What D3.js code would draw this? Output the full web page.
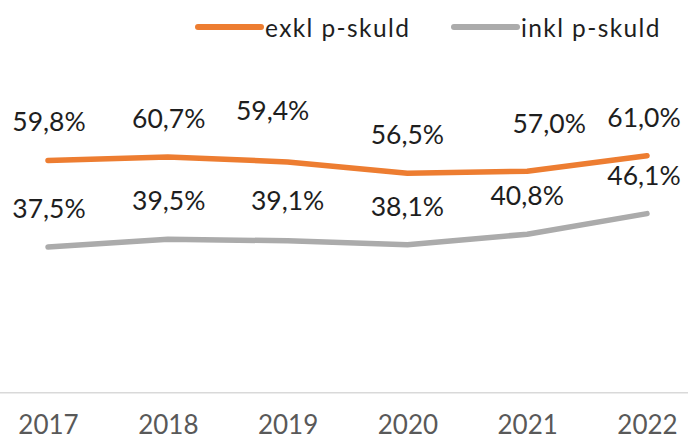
<!DOCTYPE html>
<html>
<head>
<meta charset="utf-8">
<script src="https://cdn.jsdelivr.net/npm/d3@7"></script>
<style>
  html, body { margin: 0; padding: 0; background: #fff; }
  svg { display: block; }
  text { font-family: Lato, "Open Sans", sans-serif; }
</style>
</head>
<body>
<svg id="chart" width="688" height="441"></svg>
<script>
// Years on the x axis
const years = ["2017", "2018", "2019", "2020", "2021", "2022"];
// Share in percent, excluding pension debt
const exklValues = [59.8, 60.7, 59.4, 56.5, 57.0, 61.0];
// Share in percent, including pension debt
const inklValues = [37.5, 39.5, 39.1, 38.1, 40.8, 46.1];
const seriesNames = ["exkl p-skuld", "inkl p-skuld"];

// Hand-placed label nudges (dx, dy) where labels would otherwise crowd
const exklNudge = [[1, 0], [1, 0], [-15, -13], [0, 0], [22, -9], [-3, 0]];
const inklNudge = [[1, 0], [1, 0], [0, -2], [0, 0], [0, 0], [-3, 0]];

const W = 688, H = 441;
const svg = d3.select("#chart");

const x = d3.scalePoint().domain(years).range([48, 647]);
const y = d3.scaleLinear().domain([0, 100]).range([392.7, 4.2]);

const colors = ["#ED7D31", "#ABABAB"];
const series = [
  { name: seriesNames[0], values: exklValues, nudge: exklNudge, color: colors[0] },
  { name: seriesNames[1], values: inklValues, nudge: inklNudge, color: colors[1] }
];

// Category axis: baseline without ticks
const xAxis = d3.axisBottom(x).tickSize(0).tickPadding(23);
const gx = svg.append("g").attr("transform", `translate(0,${y(0)})`).call(xAxis);
gx.select(".domain").remove();
gx.selectAll("text")
  .attr("fill", "#595959")
  .style("font-size", "26px")
  .style("font-family", "Lato, sans-serif");
svg.append("line")
  .attr("x1", 0).attr("x2", W)
  .attr("y1", y(0)).attr("y2", y(0))
  .attr("stroke", "#D9D9D9").attr("stroke-width", 1.5);

const line = d3.line()
  .x((d, i) => x(years[i]))
  .y(d => y(d));

series.forEach(s => {
  svg.append("path")
    .datum(s.values)
    .attr("d", line)
    .attr("fill", "none")
    .attr("stroke", s.color)
    .attr("stroke-width", 5.5)
    .attr("stroke-linecap", "round")
    .attr("stroke-linejoin", "round");
});

const fmt = v => d3.format(".1f")(v).replace(".", ",") + "%";
series.forEach(s => {
  svg.append("g").selectAll("text")
    .data(s.values)
    .join("text")
    .attr("x", (d, i) => x(years[i]) + s.nudge[i][0])
    .attr("y", (d, i) => y(d) - 29 + s.nudge[i][1])
    .attr("text-anchor", "middle")
    .attr("fill", "#1E1E1E")
    .style("font-size", "26.5px")
    .text(fmt);
});

// Legend
const legendX = [198, 454];
series.forEach((s, i) => {
  const g = svg.append("g").attr("transform", `translate(${legendX[i]},27)`);
  g.append("line")
    .attr("x1", 0).attr("x2", 63)
    .attr("stroke", s.color)
    .attr("stroke-width", 6)
    .attr("stroke-linecap", "round");
  g.append("text")
    .attr("x", 67).attr("y", 10)
    .attr("fill", "#1E1E1E")
    .style("font-size", "24.5px")
    .style("letter-spacing", "1.4px")
    .text(s.name);
});
</script>
</body>
</html>
